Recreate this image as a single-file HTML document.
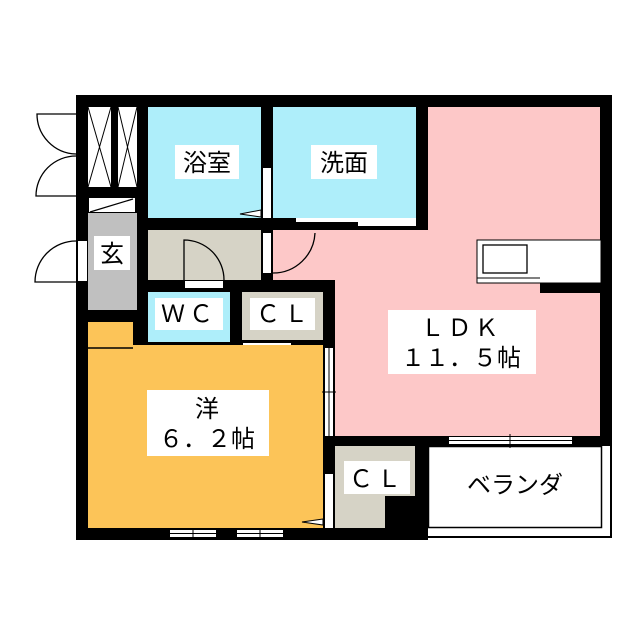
<!DOCTYPE html>
<html><head><meta charset="utf-8"><style>
html,body{margin:0;padding:0;background:#fff;}
svg{display:block;}
text{font-family:"Liberation Sans","Noto Sans CJK JP",sans-serif;font-size:24px;fill:#000;}
</style></head><body>
<svg width="640" height="640" viewBox="0 0 640 640" xmlns="http://www.w3.org/2000/svg">
<rect x="76" y="95" width="536" height="445" fill="#000"/>
<rect x="428" y="446" width="185" height="95" fill="#fff"/>
<rect x="428.5" y="446.5" width="173" height="81" fill="#fff" stroke="#000" stroke-width="1.5"/>
<polyline points="428,537 611,537 611,446" fill="none" stroke="#000" stroke-width="2"/>
<rect x="88" y="107" width="23" height="80" fill="#fff"/>
<rect x="118" y="107" width="19" height="80" fill="#fff"/>
<path d="M88,107 L111,187 M111,107 L88,187 M118,107 L137,187 M137,107 L118,187" stroke="#000" stroke-width="1"/>
<rect x="89" y="198" width="46" height="14" fill="#fff"/>
<line x1="90" y1="212" x2="133" y2="199" stroke="#000" stroke-width="1.2"/>
<rect x="88" y="213" width="49" height="97" fill="#c0c0c0"/>
<rect x="148" y="107" width="113" height="111" fill="#aeeefa"/>
<rect x="273" y="107" width="143" height="111" fill="#aeeefa"/>
<rect x="263" y="168" width="8" height="50" fill="#fff"/>
<path d="M261,210 L240,214 L261,217 Z" fill="#fff" stroke="#000" stroke-width="1"/>
<rect x="296" y="218" width="120" height="4" fill="#fff"/>
<rect x="358" y="219" width="58" height="7" fill="#fff"/>
<rect x="148" y="230" width="113" height="50" fill="#d6d3c6"/>
<rect x="263" y="233" width="8" height="40" fill="#fff"/>
<path d="M428,107 H600 V436 H335 V280 H273 V230 H428 Z" fill="#fdc8c8"/>
<path d="M273,273 A42,42 0 0 0 315,233" fill="none" stroke="#000" stroke-width="1.3"/>
<path d="M184,280 V240 A40,40 0 0 1 224,280" fill="none" stroke="#000" stroke-width="1.3"/>
<rect x="185" y="281" width="38" height="7" fill="#fff"/>
<rect x="477" y="240" width="124" height="43" fill="#fff" stroke="#000" stroke-width="1"/>
<rect x="483" y="245" width="44" height="28" fill="#fff" stroke="#000" stroke-width="1.3"/>
<rect x="540" y="283" width="61" height="10" fill="#000"/>
<line x1="477" y1="278" x2="540" y2="278" stroke="#000" stroke-width="1"/>
<rect x="148" y="292" width="82" height="50" fill="#aeeefa"/>
<rect x="242" y="292" width="81" height="48" fill="#d6d3c6"/>
<rect x="243" y="343" width="48" height="6" fill="#fff"/>
<path d="M287,349 L290,370 L293,349 Z" fill="#fff" stroke="#000" stroke-width="1"/>
<path d="M88,322 H133 V345 H323 V528 H88 Z" fill="#fcc458"/>
<line x1="88" y1="348" x2="133" y2="348" stroke="#000" stroke-width="1.5"/>
<rect x="325" y="348" width="8" height="88" fill="#fff"/>
<line x1="329" y1="348" x2="329" y2="436" stroke="#000" stroke-width="1"/>
<line x1="322" y1="392" x2="336" y2="392" stroke="#000" stroke-width="1"/>
<rect x="325" y="474" width="8" height="54" fill="#fff"/>
<path d="M323,519 L302,522 L323,525 Z" fill="#fff" stroke="#000" stroke-width="1"/>
<rect x="170" y="530" width="46" height="7" fill="#fff"/>
<rect x="237" y="530" width="46" height="7" fill="#fff"/>
<path d="M170,533.5 H216 M237,533.5 H283 M193,528 V540 M260,528 V540" stroke="#000" stroke-width="1"/>
<rect x="449" y="437" width="123" height="7" fill="#fff"/>
<path d="M449,440.5 H572 M510,434 V448" stroke="#000" stroke-width="1"/>
<path d="M335,446 H415 V496 H385 V528 H335 Z" fill="#d6d3c6"/>
<!-- left exterior doors -->
<path d="M76,114 H37 A40,40 0 0 0 76,154" fill="none" stroke="#000" stroke-width="1.3"/>
<path d="M76,156 A40,40 0 0 0 36,196 H76" fill="none" stroke="#000" stroke-width="1.3"/>
<rect x="78" y="241" width="9" height="40" fill="#fff"/>
<path d="M76,241 A41,41 0 0 0 35,282 H76" fill="none" stroke="#000" stroke-width="1.3"/>
<rect x="175" y="145" width="64" height="34" fill="#fff"/>
<text x="207" y="171" text-anchor="middle">浴室</text>
<rect x="311" y="145" width="66" height="34" fill="#fff"/>
<text x="344" y="171" text-anchor="middle">洗面</text>
<rect x="94" y="236" width="36" height="34" fill="#fff"/>
<text x="112" y="262" text-anchor="middle">玄</text>
<rect x="155" y="298" width="68" height="32" fill="#fff"/>
<text x="189" y="322" text-anchor="middle" letter-spacing="4">ＷＣ</text>
<rect x="250" y="298" width="65" height="32" fill="#fff"/>
<text x="284" y="322" text-anchor="middle" letter-spacing="4">ＣＬ</text>
<rect x="388" y="310" width="148" height="64" fill="#fff"/>
<text x="461" y="336" text-anchor="middle" letter-spacing="3">ＬＤＫ</text>
<text x="461" y="366" text-anchor="middle">１１．５帖</text>
<rect x="147" y="390" width="122" height="66" fill="#fff"/>
<text x="207" y="417" text-anchor="middle">洋</text>
<text x="207" y="447" text-anchor="middle">６．２帖</text>
<rect x="344" y="461" width="66" height="33" fill="#fff"/>
<text x="377" y="487" text-anchor="middle" letter-spacing="4">ＣＬ</text>
<text x="515" y="493" text-anchor="middle">ベランダ</text>
</svg>
</body></html>
